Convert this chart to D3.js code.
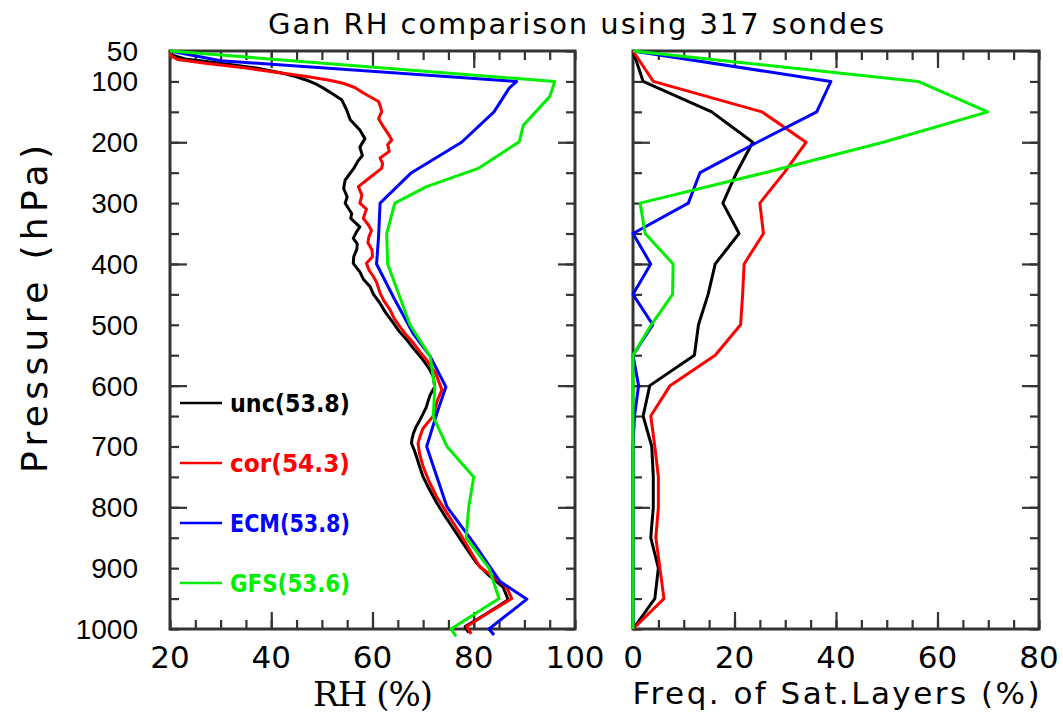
<!DOCTYPE html>
<html>
<head>
<meta charset="utf-8">
<script src="https://cdn.jsdelivr.net/npm/d3@7"></script>
<style>
  body { margin: 0; background: #fff; }
  svg { display: block; }
</style>
</head>
<body>
<div id="chart"></div>
<script>
// RH profiles, [pressure hPa, RH %]
var uncProfile = [[50,20],[57,20.5],[63,23],[70,30],[78,37],[86,42],[91,44.4],[98,47],[105,49],[111,50.3],[120,52],[130,53.9],[147,54.9],[163,55.6],[180,57.5],[194,58.5],[208,57.5],[222,58],[230,57.2],[243,56.3],[262,54.6],[276,54.3],[290,55],[300,54.6],[308,55.2],[317,55.9],[325,55.7],[339,57.5],[348,56.8],[358,56.2],[367,57],[376,56.9],[388,56.3],[399,56.2],[413,57.5],[425,58.2],[437,59.5],[450,60.2],[465,61.5],[480,62.6],[497,64.1],[510,65.2],[525,66.8],[540,68.2],[558,70],[572,71.2],[585,72],[602,72.3],[615,71.4],[625,71],[636,70.6],[646,70],[656,69.4],[668,68.6],[678,68.1],[688,67.8],[695,67.7],[705,68.2],[717,68.7],[733,69.3],[750,70],[770,71.2],[793,72.7],[818,74.6],[843,76.6],[868,78.6],[892,80.6],[912,83],[931,85.8],[952,86.8],[975,82.5],[996,78.3],[1006,79]];
var corProfile = [[50,20],[58,20.2],[64,21.5],[70,27],[78,35],[86,42],[92,47],[98,51.5],[103,54.2],[110,56.5],[119,58.2],[133,61.2],[142,61.6],[150,61.8],[161,61.2],[174,62.1],[185,63],[196,63.8],[204,63],[215,63.3],[226,61.5],[235,62],[243,61.8],[258,59.5],[273,57.2],[287,57.9],[300,57.5],[310,58.8],[317,58.5],[325,58.2],[336,59.2],[345,59.8],[355,59.3],[365,59.1],[377,59.9],[388,60],[399,58.8],[410,59.3],[421,60.2],[430,60.8],[448,61.5],[460,62.2],[476,63.5],[490,64.3],[503,65.4],[515,66.5],[530,68.1],[545,69.4],[558,70.7],[580,72.5],[607,73.7],[625,72.8],[650,72],[660,71],[670,70],[683,69.4],[695,69],[712,69.3],[733,70],[758,71.2],[783,72.7],[813,75],[843,77.3],[870,79.2],[898,81.2],[915,84],[931,86.5],[950,87.5],[973,83],[996,78.6],[1008,79.5]];
var ecmProfile = [[50,20],[66,30],[100,88.5],[111,87],[150,84],[200,77.6],[250,67.7],[300,61.5],[355,61.2],[400,60.8],[454,64.1],[514,68],[552,71.4],[602,74.5],[646,72.7],[700,70.7],[799,74.7],[859,80],[922,85.2],[951,90.5],[1000,83],[1010,84]];
var gfsProfile = [[50,20],[100,96],[125,95],[172,89.8],[199,89],[243,80.9],[273,70.7],[300,64.4],[350,62.8],[400,63],[500,67.4],[552,71.4],[604,72.3],[651,72],[700,74.7],[750,80],[800,79],[850,78.5],[900,83],[950,85],[1000,75.5],[1012,76.5]];

// saturated layer frequency, %
var satLevels = [50,100,150,200,250,300,350,400,450,500,550,600,650,700,750,800,850,900,950,1000];
var freqUnc = [0,2,15.5,23.6,20.4,17.7,20.9,16.2,14.8,12.9,12.1,3.3,2,3.7,4,4,3.5,5,4.3,0];
var freqCor = [0,4,25.4,34.1,29.8,25,25.7,21.9,21.6,21.2,16.2,7.3,3.5,4.3,5,5,4.5,5.3,6.1,0];
var freqEcm = [0,39,36.2,24.5,13.2,10.9,0,3.5,0,3.9,0,1.1,0.3,0,0,0,0,0,0,0];
var freqGfs = [0,56.2,69.9,49.3,26,1.4,2.4,7.9,7.8,3.6,0,0,0,0,0,0,0,0,0,0];

var seriesNames = ["unc(53.8)", "cor(54.3)", "ECM(53.8)", "GFS(53.6)"];
var seriesColors = ["#000000", "#ff0000", "#0000ff", "#00ee00"];
var pressureTicks = [50,100,200,300,400,500,600,700,800,900,1000];
var rhTicks = [20,40,60,80,100];
var freqTicks = [0,20,40,60,80];

var W = 1063, H = 713;
var svg = d3.select("#chart").append("svg").attr("width", W).attr("height", H);

var y = d3.scaleLinear().domain([50, 1000]).range([51, 629]);
var xRH = d3.scaleLinear().domain([20, 100]).range([170, 575]);
var xF = d3.scaleLinear().domain([0, 80]).range([633, 1039]);

var sans = "'DejaVu Sans', sans-serif";

// draws tick marks on all 4 sides of a panel
function panelAxes(x, xMinor, xMajor) {
  var yMinor = d3.range(50, 1001, 50), yMajor = [200, 400, 600, 800];
  var x0 = x.range()[0], x1 = x.range()[1], y0 = y.range()[0], y1 = y.range()[1];
  var g = svg.append("g");
  var sets = [
    [d3.axisLeft(y), x0, 0, yMinor, 9], [d3.axisLeft(y), x0, 0, yMajor, 17],
    [d3.axisRight(y), x1, 0, yMinor, 9], [d3.axisRight(y), x1, 0, yMajor, 17],
    [d3.axisTop(x), 0, y0, xMinor, 9], [d3.axisTop(x), 0, y0, xMajor, 17],
    [d3.axisBottom(x), 0, y1, xMinor, 9], [d3.axisBottom(x), 0, y1, xMajor, 17]
  ];
  sets.forEach(function(s) {
    var a = g.append("g")
      .attr("transform", "translate(" + s[1] + "," + s[2] + ")")
      .call(s[0].tickValues(s[3]).tickSize(-s[4]).tickFormat(""));
    a.select(".domain").remove();
    a.selectAll("line").attr("stroke", "#333").attr("stroke-width", 2.2);
  });
  g.append("rect")
    .attr("x", x0).attr("y", y0).attr("width", x1 - x0).attr("height", y1 - y0)
    .attr("fill", "none").attr("stroke", "#333").attr("stroke-width", 3);
}

panelAxes(xRH, d3.range(20, 101, 5), [40, 60, 80]);
panelAxes(xF, d3.range(0, 81, 5), [20, 40, 60]);

// left panel lines
var profLine = d3.line().x(function(d) { return xRH(d[1]); }).y(function(d) { return y(d[0]); });
[uncProfile, corProfile, ecmProfile, gfsProfile].forEach(function(prof, i) {
  svg.append("path").datum(prof)
    .attr("fill", "none").attr("stroke", seriesColors[i])
    .attr("stroke-width", 3).attr("stroke-linejoin", "round")
    .attr("d", profLine);
});

// right panel lines
var freqLine = d3.line().x(function(d) { return xF(d[1]); }).y(function(d) { return y(d[0]); });
[freqUnc, freqCor, freqEcm, freqGfs].forEach(function(vals, i) {
  svg.append("path").datum(satLevels.map(function(p, k) { return [p, vals[k]]; }))
    .attr("fill", "none").attr("stroke", seriesColors[i])
    .attr("stroke-width", 3).attr("stroke-linejoin", "round")
    .attr("d", freqLine);
});

// legend
var legY = [403, 463, 523, 583];
seriesNames.forEach(function(name, i) {
  svg.append("line").attr("x1", 180).attr("x2", 222).attr("y1", legY[i]).attr("y2", legY[i])
    .attr("stroke", seriesColors[i]).attr("stroke-width", 2.6);
  svg.append("text").attr("x", 230).attr("y", legY[i] + 9)
    .attr("fill", seriesColors[i])
    .attr("textLength", 120).attr("lengthAdjust", "spacingAndGlyphs")
    .style("font-family", sans).style("font-weight", "bold")
    .style("font-size", "24px")
    .text(name);
});

// y tick labels
svg.append("g").selectAll("text").data(pressureTicks).join("text")
  .attr("x", 138).attr("y", function(d) { return y(d) + 10; })
  .attr("text-anchor", "end")
  .style("font-family", "'Liberation Sans', Arial, sans-serif").style("font-size", "28px")
  .text(function(d) { return d; });

// x tick labels
svg.append("g").selectAll("text").data(rhTicks).join("text")
  .attr("x", function(d) { return xRH(d); }).attr("y", 668)
  .attr("text-anchor", "middle")
  .style("font-family", sans).style("font-size", "31px")
  .text(function(d) { return d; });
svg.append("g").selectAll("text").data(freqTicks).join("text")
  .attr("x", function(d) { return xF(d); }).attr("y", 668)
  .attr("text-anchor", "middle")
  .style("font-family", sans).style("font-size", "31px")
  .text(function(d) { return d; });

// titles
svg.append("text").attr("x", 576).attr("y", 34).attr("text-anchor", "middle")
  .attr("textLength", 616).attr("lengthAdjust", "spacing")
  .style("font-family", sans).style("font-size", "29px")
  .text("Gan RH comparison using 317 sondes");
svg.append("text").attr("x", 373).attr("y", 706).attr("text-anchor", "middle")
  .attr("textLength", 120).attr("lengthAdjust", "spacing")
  .style("font-family", "'DejaVu Serif', 'Liberation Serif', serif").style("font-size", "34px")
  .text("RH (%)");
svg.append("text").attr("x", 836).attr("y", 704).attr("text-anchor", "middle")
  .attr("textLength", 407).attr("lengthAdjust", "spacing")
  .style("font-family", sans).style("font-size", "31px")
  .text("Freq. of Sat.Layers (%)");
svg.append("text")
  .attr("transform", "translate(47,309) rotate(-90)")
  .attr("text-anchor", "middle")
  .attr("textLength", 328).attr("lengthAdjust", "spacing")
  .style("font-family", sans).style("font-size", "36px")
  .text("Pressure (hPa)");
</script>
</body>
</html>
